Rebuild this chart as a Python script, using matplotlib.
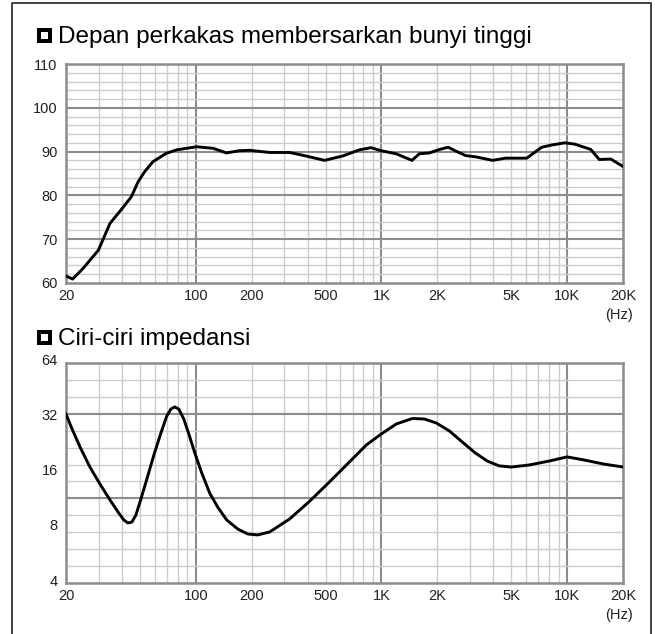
import numpy as np
import matplotlib
matplotlib.use('Agg')
import matplotlib.pyplot as plt
from matplotlib.patches import Rectangle
from matplotlib.lines import Line2D
from matplotlib.transforms import ScaledTranslation

plt.rcParams['font.family'] = ['Liberation Sans', 'DejaVu Sans']

# frequency response (SPL, dB)
spl_freq = [20, 21.7, 24.8, 29.9, 34.5, 39.6, 45, 48.9, 53, 58.8, 69.3, 78.9, 89,
            101, 124, 146, 172, 195, 250, 320, 392, 494, 618, 761, 880, 996, 1200,
            1460, 1600, 1815, 2060, 2290, 2520, 2840, 3220, 3970, 4660, 6060, 7300,
            8250, 9710, 11000, 13400, 14900, 17200, 20000]
spl_db = [61.6, 60.9, 63.4, 67.5, 73.6, 76.7, 79.7, 83.1, 85.4, 87.7, 89.6, 90.4, 90.75,
          91.1, 90.75, 89.7, 90.2, 90.3, 89.8, 89.8, 89.0, 88.0, 89.0, 90.4, 90.9, 90.2, 89.5,
          88.0, 89.5, 89.7, 90.5, 91.0, 90.1, 89.1, 88.8, 88.0, 88.5, 88.5, 91.0,
          91.5, 92.0, 91.7, 90.5, 88.2, 88.3, 86.6]

# impedance (ohm)
imp_freq = [20, 21.55, 23.8, 26.9, 30.5, 34.5, 38.1, 41.0, 43.1, 45.3, 47.6, 50.6, 54.5,
            59.5, 64.9, 69.8, 73.4, 77.1, 81.0, 86.2, 91.7, 98.8, 107.7, 118.9, 131.3,
            146.8, 168.2, 190.3, 215.3, 250, 320, 410, 525, 673, 830, 1000, 1204, 1468,
            1702, 1975, 2320, 2725, 3201, 3715, 4309, 5000, 6248, 8000, 10000, 12340,
            15800, 20000]
imp_ohm = [33.6, 27.9, 22.2, 17.25, 13.9, 11.4, 9.8, 8.85, 8.52, 8.63, 9.42, 11.5, 14.8,
           20.1, 26.5, 32.8, 35.8, 36.8, 35.8, 31.6, 26.2, 20.6, 16.0, 12.4, 10.4,
           8.85, 7.9, 7.42, 7.33, 7.61, 8.96, 11.2, 14.3, 18.4, 22.8, 26.2, 29.7, 31.8,
           31.6, 30.05, 27.2, 23.65, 20.6, 18.6, 17.5, 17.25, 17.7, 18.6, 19.6, 18.85,
           17.9, 17.25]

x_ticks = [20, 100, 200, 500, 1000, 2000, 5000, 10000, 20000]
x_labels = ['20', '100', '200', '500', '1K', '2K', '5K', '10K', '20K']
spl_ticks = [60, 70, 80, 90, 100, 110]
imp_ticks = [4, 8, 16, 32, 64]

title_spl = 'Depan perkakas membersarkan bunyi tinggi'
title_imp = 'Ciri-ciri impedansi'

MAJ = '#8c8c8c'
MIN = '#cccccc'

W, H = 655, 634
fig = plt.figure(figsize=(W / 100, H / 100), dpi=100)


def px_axes(l, t, r, b):
    return fig.add_axes([l / W, 1 - b / H, (r - l) / W, (b - t) / H])


def freq_grid(ax):
    for dec in (10, 100, 1000, 10000):
        for m in range(1, 10):
            f = dec * m
            if f <= 20 or f >= 20000:
                continue
            if m == 1:
                ax.axvline(f, color=MAJ, lw=1.5, zorder=1)
            else:
                ax.axvline(f, color=MIN, lw=1.0, zorder=1)


def style(ax):
    ax.set_xscale('log')
    ax.set_xlim(20, 20000)
    ax.set_xticks(x_ticks)
    ax.set_xticklabels(x_labels)
    ax.minorticks_off()
    ax.tick_params(length=0, labelsize=10.5, colors='#222222', pad=4)
    ax.tick_params(axis='y', pad=6)
    for s in ax.spines.values():
        s.set_color(MAJ)
        s.set_linewidth(1.8)
    freq_grid(ax)
    ax.annotate('(Hz)', xy=(20000, 0), xycoords=('data', 'axes fraction'),
                xytext=(-3, -23), textcoords='offset points', ha='center', va='center',
                fontsize=10.5, color='#222222', annotation_clip=False)


# --- top chart: SPL
ax1 = px_axes(66, 64, 623, 283)
style(ax1)
ax1.set_ylim(60, 110)
ax1.set_yticks(spl_ticks)
for v in range(62, 110, 2):
    if v % 10 == 0:
        ax1.axhline(v, color=MAJ, lw=1.5, zorder=1)
    else:
        ax1.axhline(v, color=MIN, lw=1.0, zorder=1)
ax1.plot(spl_freq, spl_db, color='black', lw=2.1, zorder=3, solid_joinstyle='round')

# --- bottom chart: impedance
ax2 = px_axes(66, 363, 623, 583)
style(ax2)
ax2.set_yscale('log', base=2)
ax2.set_ylim(4, 64)
ax2.set_yticks(imp_ticks)
ax2.set_yticklabels([str(v) for v in imp_ticks])
ax2.minorticks_off()
for k in range(1, 13):
    v = 2 ** (6 - 4 * k / 13)
    if k in (3, 8):
        ax2.axhline(v, color=MAJ, lw=1.5, zorder=1)
    else:
        ax2.axhline(v, color=MIN, lw=1.0, zorder=1)
for lab in ax2.get_yticklabels():
    lab.set_transform(lab.get_transform() + ScaledTranslation(0, 0.03, fig.dpi_scale_trans))
ax2.plot(imp_freq, imp_ohm, color='black', lw=2.1, zorder=3, solid_joinstyle='round')

# --- titles with square bullets
for top, txt in ((28, title_spl), (330, title_imp)):
    fig.add_artist(Rectangle((37 / W, 1 - (top + 15) / H), 15 / W, 15 / H,
                             facecolor='black', edgecolor='none', transform=fig.transFigure))
    fig.add_artist(Rectangle((41 / W, 1 - (top + 11) / H), 7 / W, 7 / H,
                             facecolor='white', edgecolor='none', transform=fig.transFigure))
    fig.text(58 / W, 1 - (top + 15) / H, txt, fontsize=17.5, va='baseline', color='black')

# outer frame (open at bottom)
fig.add_artist(Line2D([12 / W, 12 / W, 651 / W, 651 / W], [0, 1 - 3 / H, 1 - 3 / H, 0],
                      color='#333333', lw=1.3, transform=fig.transFigure))

fig.savefig('out.png', dpi=100)
